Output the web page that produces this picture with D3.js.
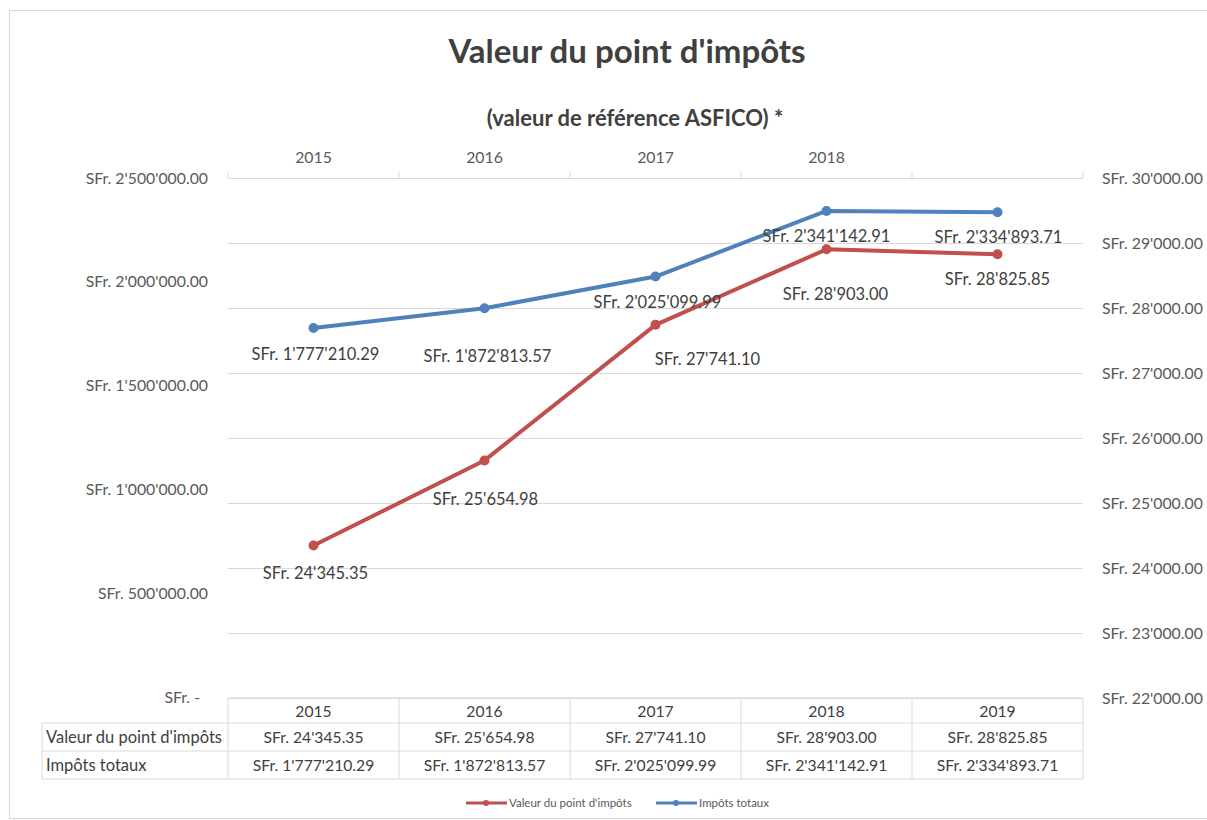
<!DOCTYPE html>
<html>
<head>
<meta charset="utf-8">
<script src="https://cdn.jsdelivr.net/npm/d3@7"></script>
<style>
  body { margin: 0; background: #fff; }
  svg text { font-family: Lato, "Open Sans", sans-serif; }
</style>
</head>
<body>
<div id="chart"></div>
<script>
// Données
const years = ['2015', '2016', '2017', '2018', '2019'];
const pointValues = [24345.35, 25654.98, 27741.10, 28903.00, 28825.85];
const totalTaxes = [1777210.29, 1872813.57, 2025099.99, 2341142.91, 2334893.71];
const topAxisYears = ['2015', '2016', '2017', '2018'];
const leftTicks = [0, 500000, 1000000, 1500000, 2000000, 2500000];
const rightTicks = [22000, 23000, 24000, 25000, 26000, 27000, 28000, 29000, 30000];
const seriesNames = ["Valeur du point d'impôts", 'Impôts totaux'];

// décalage des étiquettes (comme dans Excel)
const redLabelShift = [[2, 27], [1, 39], [52, 34], [9, 45], [0, 25]];
const blueLabelShift = [[2, 26], [3, 48], [2, 25], [0, 25], [1, 25]];

const width = 1207, height = 820;
const plotLeft = 228, plotRight = 1083, plotTop = 178, plotBottom = 698;
const red = '#c0504d', blue = '#4f81bd';
const txt = '#595959', grid = '#d9d9d9';

const chf = d3.formatLocale({decimal: '.', thousands: "'", grouping: [3], currency: ['', '']}).format(',.2f');
const money = v => v === 0 ? 'SFr. -' : 'SFr. ' + chf(v);

let svg = d3.select('#chart').append('svg')
  .attr('width', width).attr('height', height);

// cadre
svg.append('rect')
  .attr('x', 9.5).attr('y', 10.5)
  .attr('width', 1200).attr('height', 808)
  .attr('fill', 'none').attr('stroke', grid);

// titres
svg.append('text')
  .attr('x', 627).attr('y', 63)
  .attr('text-anchor', 'middle')
  .attr('font-size', 33).attr('font-weight', 'bold')
  .attr('fill', '#404040')
  .text("Valeur du point d'impôts");

svg.append('text')
  .attr('x', 635).attr('y', 126)
  .attr('text-anchor', 'middle')
  .attr('font-size', 22).attr('font-weight', 'bold')
  .attr('fill', '#404040')
  .text('(valeur de référence ASFICO) *');

// échelles
let xBand = d3.scaleBand().domain(years).range([plotLeft, plotRight]);
let xPoint = d => xBand(d) + xBand.bandwidth() / 2;

let yLeft = d3.scaleLinear().domain([0, 2500000]).range([697, plotTop]);
let yRight = d3.scaleLinear().domain([22000, 30000]).range([plotBottom, plotTop]);

// grille (axe de droite)
let rightAxis = d3.axisRight(yRight)
  .tickValues(rightTicks)
  .tickSize(-(plotRight - plotLeft))
  .tickPadding(19)
  .tickFormat(money);

let gR = svg.append('g')
  .attr('transform', `translate(${plotRight},0)`)
  .call(rightAxis);
gR.select('.domain').remove();
gR.selectAll('.tick line').attr('stroke', grid);
gR.selectAll('.tick text').attr('fill', txt).attr('font-size', 15.8);

// axe de gauche
let leftAxis = d3.axisLeft(yLeft)
  .tickValues(leftTicks)
  .tickSize(0)
  .tickPadding(20)
  .tickFormat(money);

let gL = svg.append('g')
  .attr('transform', `translate(${plotLeft},0)`)
  .call(leftAxis);
gL.select('.domain').remove();
gL.selectAll('.tick text').attr('fill', txt).attr('font-size', 15.8)
  .attr('dx', d => d === 0 ? -8 : 0);

// axe du haut
svg.append('g').selectAll('line')
  .data(years.concat(['end']))
  .enter()
  .append('line')
  .attr('x1', (d, i) => plotLeft + i * xBand.bandwidth())
  .attr('x2', (d, i) => plotLeft + i * xBand.bandwidth())
  .attr('y1', plotTop).attr('y2', plotTop - 6)
  .attr('stroke', grid);

svg.append('g').selectAll('text')
  .data(topAxisYears)
  .enter()
  .append('text')
  .attr('x', d => xPoint(d))
  .attr('y', 163)
  .attr('text-anchor', 'middle')
  .attr('font-size', 15.8).attr('fill', txt)
  .text(d => d);

// lignes
let redLine = d3.line()
  .x((d, i) => xPoint(years[i]))
  .y(d => yRight(d));

let blueLine = d3.line()
  .x((d, i) => xPoint(years[i]))
  .y(d => yLeft(d));

svg.append('path')
  .datum(totalTaxes)
  .attr('fill', 'none').attr('stroke', blue)
  .attr('stroke-width', 4).attr('stroke-linejoin', 'round')
  .attr('d', blueLine);

svg.append('path')
  .datum(pointValues)
  .attr('fill', 'none').attr('stroke', red)
  .attr('stroke-width', 4).attr('stroke-linejoin', 'round')
  .attr('d', redLine);

svg.append('g').selectAll('circle')
  .data(totalTaxes)
  .enter()
  .append('circle')
  .attr('cx', (d, i) => xPoint(years[i]))
  .attr('cy', d => yLeft(d))
  .attr('r', 5).attr('fill', blue);

svg.append('g').selectAll('circle')
  .data(pointValues)
  .enter()
  .append('circle')
  .attr('cx', (d, i) => xPoint(years[i]))
  .attr('cy', d => yRight(d))
  .attr('r', 5).attr('fill', red);

// étiquettes de données
svg.append('g').selectAll('text')
  .data(totalTaxes)
  .enter()
  .append('text')
  .attr('x', (d, i) => xPoint(years[i]) + blueLabelShift[i][0])
  .attr('y', (d, i) => yLeft(d) + blueLabelShift[i][1] + 6)
  .attr('text-anchor', 'middle')
  .attr('font-size', 16.5).attr('fill', '#404040')
  .text(d => money(d));

svg.append('g').selectAll('text')
  .data(pointValues)
  .enter()
  .append('text')
  .attr('x', (d, i) => xPoint(years[i]) + redLabelShift[i][0])
  .attr('y', (d, i) => yRight(d) + redLabelShift[i][1] + 6)
  .attr('text-anchor', 'middle')
  .attr('font-size', 16.5).attr('fill', '#404040')
  .text(d => money(d));

// table de données
const tableLeft = 42;
const rowY = [698, 723, 751, 779];
let table = svg.append('g');

// lignes horizontales
table.append('line')
  .attr('x1', plotLeft).attr('x2', plotRight)
  .attr('y1', rowY[0]).attr('y2', rowY[0]).attr('stroke', grid);
[1, 2, 3].forEach(r => {
  table.append('line')
    .attr('x1', tableLeft).attr('x2', plotRight)
    .attr('y1', rowY[r]).attr('y2', rowY[r]).attr('stroke', grid);
});
// lignes verticales
table.append('line')
  .attr('x1', tableLeft).attr('x2', tableLeft)
  .attr('y1', rowY[1]).attr('y2', rowY[3]).attr('stroke', grid);
d3.range(years.length + 1).forEach(i => {
  let x = plotLeft + i * xBand.bandwidth();
  table.append('line')
    .attr('x1', x).attr('x2', x)
    .attr('y1', rowY[0]).attr('y2', rowY[3]).attr('stroke', grid);
});

let rows = [years, pointValues.map(money), totalTaxes.map(money)];
rows.forEach((row, r) => {
  table.append('g').selectAll('text')
    .data(row)
    .enter()
    .append('text')
    .attr('x', (d, i) => xPoint(years[i]))
    .attr('y', (rowY[r] + rowY[r + 1]) / 2 + 6)
    .attr('text-anchor', 'middle')
    .attr('font-size', 15.7).attr('fill', '#404040')
    .text(d => d);
});

seriesNames.forEach((name, i) => {
  table.append('text')
    .attr('x', tableLeft + 4)
    .attr('y', (rowY[i + 1] + rowY[i + 2]) / 2 + 6)
    .attr('font-size', 16.5).attr('fill', '#404040')
    .text(name);
});

// légende
const legendX = [466, 656];
const legendColors = [red, blue];
seriesNames.forEach((name, i) => {
  let g = svg.append('g').attr('transform', `translate(${legendX[i]},803)`);
  g.append('line')
    .attr('x1', 0).attr('x2', 41).attr('y1', 0).attr('y2', 0)
    .attr('stroke', legendColors[i]).attr('stroke-width', 3);
  g.append('circle')
    .attr('cx', 20).attr('cy', 0).attr('r', 3)
    .attr('fill', legendColors[i]);
  g.append('text')
    .attr('x', 43).attr('y', 4)
    .attr('font-size', 11.5).attr('fill', txt)
    .text(name);
});
</script>
</body>
</html>
